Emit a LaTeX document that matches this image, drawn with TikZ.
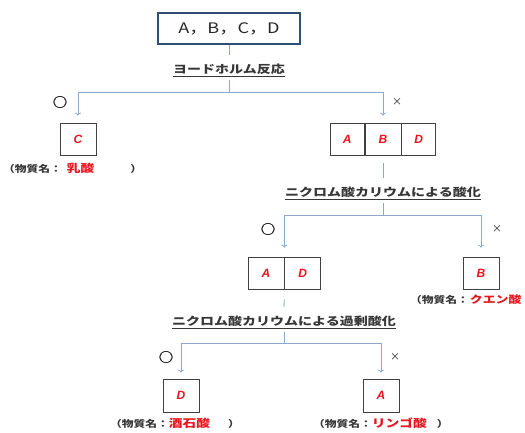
\documentclass[tikz,border=0pt]{standalone}
\usepackage{fontspec}
\usetikzlibrary{arrows.meta}
\newfontfamily\jp[FakeStretch=1.25]{Noto Sans CJK JP}
\newfontfamily\jpo[FakeStretch=1.1,FakeBold=1.5]{Noto Sans CJK JP}
\newfontfamily\jpplain{Noto Sans CJK JP}
\newfontfamily\lat{Liberation Sans}
\definecolor{linec}{RGB}{140,168,204}
\definecolor{navyc}{RGB}{47,78,117}
\definecolor{boxc}{RGB}{64,64,64}
\definecolor{grayt}{RGB}{55,55,55}
\definecolor{redt}{RGB}{232,20,30}
\begin{document}
\begin{tikzpicture}[x=1pt,y=-1pt,
  conn/.style={draw=linec, line width=0.8pt},
  arr/.style={conn, -{To[length=3pt,width=6pt]}},
  topbox/.style={draw=navyc, line width=1.7pt, minimum width=142pt, minimum height=31pt, inner sep=0pt, text=black!85, font=\jp\fontsize{14.5}{16}\selectfont},
  cell/.style={draw=boxc, line width=0.7pt, minimum width=36pt, minimum height=32pt, inner sep=0pt, text=redt, font=\lat\bfseries\itshape\fontsize{12}{13}\selectfont},
  method/.style={inner sep=0pt, minimum height=20pt, text=grayt, font=\jp\bfseries\fontsize{11.2}{13}\selectfont},
  sym/.style={inner sep=0pt, text=black!85, font=\jpo\fontsize{13}{14}\selectfont},
  crs/.style={inner sep=0pt, text=black!85, font=\jpplain\fontsize{10}{11}\selectfont},
  subst/.style={anchor=west, inner sep=0pt, text=grayt, font=\jp\bfseries\fontsize{9.4}{11}\selectfont}]
\useasboundingbox (0,0) rectangle (525,432);
\newcommand{\rn}[1]{{\color{redt}\bfseries\fontsize{11}{12}\selectfont #1}}

% level 1
\node[topbox] (top) at (229,28.5) {A，B，C，D};
\node[method] (m1) at (229,70) {\underline{ヨードホルム反応}};
\coordinate (j1) at (229,92);
\node[cell] (c) at (78,139) {C};
\node[cell, minimum width=36pt] (abdB) at (383,139) {B};
\node[cell, minimum width=34pt, anchor=east] (abdA) at (abdB.west) {A};
\node[cell, minimum width=34pt, anchor=west] (abdD) at (abdB.east) {D};
\node[sym] (o1) at (60,102) {○};
\node[crs] (x1) at (397,102) {×};
\node[subst] (n1) at (3,168) {（物質名：\hspace{5pt}\rn{乳酸}\hspace{36pt}）};

\draw[conn, shorten >=5pt] (top.south) -- (m1.north);
\draw[conn] (m1.south) -- (j1);
\draw[arr, shorten >=7pt] (j1) -| (c.north);
\draw[arr, shorten >=7pt] (j1) -| (abdB.north);

% level 2
\node[method] (m2) at (383,193) {\underline{ニクロム酸カリウムによる酸化}};
\coordinate (j2) at (383,215);
\node[cell] (adA) at (266,273) {A};
\node[cell, anchor=west] (adD) at (adA.east) {D};
\node[cell] (b) at (481,273) {B};
\node[sym] (o2) at (268,229) {○};
\node[crs] (x2) at (497,229) {×};
\node[subst] (n2) at (410,300) {（物質名：\hspace{1pt}{\color{redt}\bfseries\fontsize{10.3}{12}\selectfont クエン酸}};

\draw[conn, shorten <=8pt, shorten >=5pt] (abdB.south) -- (m2.north);
\draw[conn] (m2.south) -- (j2);
\draw[arr, shorten >=9pt] (j2) -| (adA.north east);
\draw[arr, shorten >=9pt] (j2) -| (b.north);

% level 3
\node[method] (m3) at (284,322) {\underline{ニクロム酸カリウムによる過剰酸化}};
\coordinate (j3) at (284,343);
\node[cell, minimum height=33pt] (d) at (181,395.5) {D};
\node[cell, minimum height=33pt] (a) at (381,395.5) {A};
\node[sym] (o3) at (166,357) {○};
\node[crs] (x3) at (395,357) {×};
\node[subst] (n3) at (110,423) {（物質名：\rn{酒石酸}\hspace{18pt}）};
\node[subst] (n4) at (313,423) {（物質名：\rn{リンゴ酸}\hspace{10pt}）};

\draw[conn, shorten <=10pt, shorten >=5pt] (adA.south east) -- (m3.north);
\draw[conn] (m3.south) -- (j3);
\draw[arr, shorten >=6pt] (j3) -| (d.north);
\draw[arr, shorten >=6pt] (j3) -| (a.north);
\end{tikzpicture}
\end{document}
